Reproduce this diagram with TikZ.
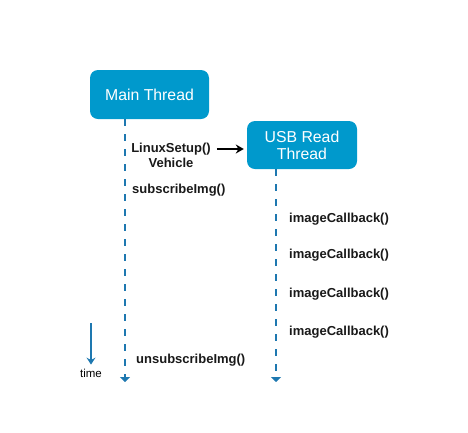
\documentclass[tikz,border=0pt]{standalone}
\usepackage{fontspec}
\setmainfont{Liberation Sans}
\usetikzlibrary{arrows.meta}
\definecolor{boxblue}{HTML}{0099CC}
\definecolor{lineblue}{HTML}{1E78B0}
\begin{document}
\begin{tikzpicture}[x=1pt,y=-1pt,
  thread/.style={draw=none,fill=boxblue,rounded corners=8pt,text=white,
    font=\fontsize{15.8}{17}\selectfont,align=center,inner sep=0pt},
  lifeline/.style={draw=lineblue,line width=2pt,dash pattern=on 7pt off 8pt,
    -{Triangle[width=10pt,length=5pt]}},
  call/.style={font=\bfseries\fontsize{13}{14}\selectfont,inner sep=0pt,text=black!90},
]
\useasboundingbox (0,0) rectangle (468,432);
\node[thread,minimum width=119pt,minimum height=49pt] (main) at (149.5,94.5) {Main Thread};
\node[thread,minimum width=110pt,minimum height=48pt] (usb) at (302,145) {USB Read\\Thread};
\coordinate (mainend) at (125,382);
\coordinate (usbend) at (276,382);
\draw[lifeline] (main.south -| mainend) -- (mainend);
\draw[lifeline] (usb.south -| usbend) -- (usbend);
\node[call] (ls) at (171,149) {LinuxSetup()};
\node[call] (veh) at (171,163) {Vehicle};
\coordinate (arrend) at (usb.west |- ls.east);
\draw[line width=1.7pt,-{Stealth[length=8pt,width=9pt]}] ([xshift=6pt]ls.east) -- ([xshift=-3pt]arrend);
\node[call,anchor=west] (sub) at (132,190) {subscribeImg()};
\node[call,anchor=west] (cb1) at (289,219) {imageCallback()};
\node[call,anchor=west] (cb2) at (289,255) {imageCallback()};
\node[call,anchor=west] (cb3) at (289,294) {imageCallback()};
\node[call,anchor=west] (cb4) at (289,332) {imageCallback()};
\node[call,anchor=west] (unsub) at (136,360) {unsubscribeImg()};
\coordinate (tstart) at (91,323);
\node[font=\fontsize{11.5}{13}\selectfont,inner sep=0pt] (time) at (91,373) {time};
\draw[lineblue,line width=1.6pt,-{Stealth[length=7pt,width=9pt,inset=2.5pt]}] (tstart) -- ([yshift=4pt]time.north);
\end{tikzpicture}
\end{document}
